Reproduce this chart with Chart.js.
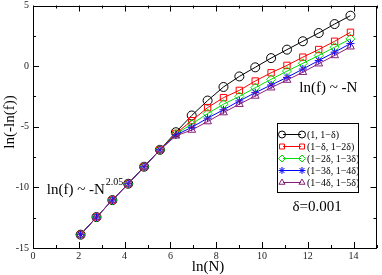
<!DOCTYPE html>
<html>
<head>
<meta charset="utf-8">
<script src="https://cdn.jsdelivr.net/npm/chart.js@4.4.1/dist/chart.umd.min.js"></script>
<style>
  html, body { margin: 0; padding: 0; background: #fff; }
  #wrap { width: 382px; height: 275px; }
</style>
</head>
<body>
<div id="wrap"><canvas id="chart"></canvas></div>
<script>
// ln(N) for N = 2^3 ... 2^20
const lnN = [2.079, 2.773, 3.466, 4.159, 4.852, 5.545, 6.238, 6.931, 7.625,
             8.318, 9.011, 9.704, 10.397, 11.090, 11.784, 12.477, 13.170, 13.863];

const seriesA = [-13.9, -12.45, -11.05, -9.7, -8.3, -6.9, -5.45, -4.07, -2.84,
                 -1.72, -0.85, -0.1, 0.66, 1.36, 2.05, 2.73, 3.47, 4.16];
const seriesB = [-13.9, -12.45, -11.05, -9.7, -8.3, -6.9, -5.55, -4.5, -3.42,
                 -2.6, -2.0, -1.23, -0.55, 0.06, 0.74, 1.37, 2.05, 2.79];
const seriesC = [-13.9, -12.45, -11.05, -9.7, -8.3, -6.9, -5.6, -4.78, -3.91,
                 -3.14, -2.5, -1.78, -1.09, -0.41, 0.23, 0.88, 1.56, 2.25];
const seriesD = [-13.9, -12.45, -11.05, -9.7, -8.3, -6.9, -5.68, -5.05, -4.29,
                 -3.6, -2.87, -2.19, -1.56, -0.93, -0.24, 0.46, 1.15, 1.86];
const seriesE = [-13.9, -12.45, -11.05, -9.7, -8.3, -6.9, -5.75, -5.27, -4.57,
                 -3.83, -3.14, -2.46, -1.78, -1.15, -0.5, 0.2, 0.88, 1.6];

const seriesLabels = ['(1, 1\u2212\u03b4)', '(1\u2212\u03b4, 1\u22122\u03b4)', '(1\u22122\u03b4, 1\u22123\u03b4)',
                      '(1\u22123\u03b4, 1\u22124\u03b4)', '(1\u22124\u03b4, 1\u22125\u03b4)'];

const xTicks = [0, 2, 4, 6, 8, 10, 12, 14];
const yTicks = [-15, -10, -5, 0, 5];

const SERIF = '"Liberation Serif", "DejaVu Serif", serif';

const colors = ['#000000', '#ff0000', '#00e000', '#0000ff', '#8a1f7a'];
const styles = ['circle', 'rect', 'rectRot', 'star', 'triangle'];
const allSeries = [seriesA, seriesB, seriesC, seriesD, seriesE];

const datasets = allSeries.map(function(ys, i) {
    return {
        label: seriesLabels[i],
        data: ys.map(function(y, j) { return { x: lnN[j], y: y }; }),
        borderColor: colors[i],
        borderWidth: 1,
        pointStyle: styles[i],
        pointRadius: styles[i] === 'star' ? 4 : 4.5,
        pointBorderColor: colors[i],
        pointBackgroundColor: 'rgba(0,0,0,0)',
        pointBorderWidth: 1,
        tension: 0,
        order: 4 - i // purple drawn on top
    };
});

// box, inward ticks, titles, annotations, legend
const decorations = {
    id: 'decorations',
    afterDraw: function(chart) {
        const c = chart.ctx;
        const a = chart.chartArea;
        const xs = chart.scales.x;
        const ys = chart.scales.y;
        c.save();
        c.strokeStyle = '#000';
        c.lineWidth = 1;
        c.strokeRect(Math.round(a.left) + 0.5, Math.round(a.top) + 0.5,
                     Math.round(a.right - a.left) - 1, Math.round(a.bottom - a.top) - 1);

        c.beginPath();
        for (let v = 0; v <= 15; v++) {
            const px = Math.round(xs.getPixelForValue(v)) + 0.5;
            const len = v % 2 === 0 ? 6 : 3;
            c.moveTo(px, a.bottom); c.lineTo(px, a.bottom - len);
            c.moveTo(px, a.top); c.lineTo(px, a.top + len);
        }
        for (let v = -15; v <= 5; v += 2.5) {
            const py = Math.round(ys.getPixelForValue(v)) + 0.5;
            const len = v % 5 === 0 ? 6 : 3;
            c.moveTo(a.left, py); c.lineTo(a.left + len, py);
            c.moveTo(a.right, py); c.lineTo(a.right - len, py);
        }
        c.stroke();

        // axis titles
        c.fillStyle = '#000';
        c.font = '15px ' + SERIF;
        c.textAlign = 'center';
        c.textBaseline = 'middle';
        c.fillText('ln(N)', 208, 267);
        c.save();
        c.translate(10, 122);
        c.rotate(-Math.PI / 2);
        c.fillText('ln(-ln(f))', 0, 0);
        c.restore();

        // annotations
        c.textAlign = 'left';
        c.textBaseline = 'alphabetic';
        c.font = '15px ' + SERIF;
        const t1 = 'ln(f) ~ -N';
        const x1 = xs.getPixelForValue(0.6), y1 = ys.getPixelForValue(-10.55);
        c.fillText(t1, x1, y1);
        const w1 = c.measureText(t1).width;
        c.font = '10px ' + SERIF;
        c.fillText('2.05', x1 + w1 + 1, y1 - 9);
        c.font = '15px ' + SERIF;
        c.fillText('ln(f) ~ -N', xs.getPixelForValue(11.63), ys.getPixelForValue(-2.1));
        c.fillText('\u03b4=0.001', xs.getPixelForValue(11.33), ys.getPixelForValue(-11.95));

        // legend
        const lx = 277, ly = 123, lw = 81, lh = 69;
        c.fillStyle = '#fff';
        c.fillRect(lx, ly, lw, lh);
        c.strokeStyle = '#000';
        c.strokeRect(lx + 0.5, ly + 0.5, lw, lh);
        c.font = '10px ' + SERIF;
        c.textBaseline = 'middle';
        datasets.forEach(function(ds, i) {
            const ry = ly + 11 + i * 12;
            c.strokeStyle = ds.borderColor;
            c.lineWidth = 1;
            c.beginPath();
            c.moveTo(lx + 6, ry + 0.5); c.lineTo(lx + 24, ry + 0.5);
            c.stroke();
            const opts = { pointStyle: ds.pointStyle, radius: 3.5, borderWidth: 1, rotation: 0 };
            c.fillStyle = 'rgba(0,0,0,0)';
            c.strokeStyle = ds.borderColor;
            Chart.helpers.drawPoint(c, opts, lx + 5, ry + 0.5);
            Chart.helpers.drawPoint(c, opts, lx + 25, ry + 0.5);
            c.fillStyle = '#000';
            c.fillText(ds.label, lx + 30, ry + 1);
        });
        c.restore();
    }
};

document.addEventListener('DOMContentLoaded', function() {
    const ctx = document.getElementById('chart').getContext('2d');
    new Chart(ctx, {
        type: 'line',
        data: { datasets: datasets },
        options: {
            responsive: true,
            maintainAspectRatio: false,
            animation: false,
            layout: { padding: { top: 5, right: 2, left: 0, bottom: 0 } },
            plugins: {
                legend: { display: false },
                tooltip: { enabled: false }
            },
            scales: {
                x: {
                    type: 'linear',
                    min: 0,
                    max: 15,
                    afterBuildTicks: function(s) { s.ticks = xTicks.map(function(v) { return { value: v }; }); },
                    afterFit: function(s) { s.height = 27; s.paddingLeft = 0; s.paddingRight = 0; },
                    grid: { display: false, drawTicks: false },
                    border: { display: false },
                    ticks: { font: { family: SERIF, size: 10 }, color: '#222', padding: 2, maxRotation: 0 }
                },
                y: {
                    type: 'linear',
                    min: -15,
                    max: 5,
                    afterBuildTicks: function(s) { s.ticks = yTicks.map(function(v) { return { value: v }; }); },
                    afterFit: function(s) { s.width = 33; s.paddingTop = 0; s.paddingBottom = 0; },
                    grid: { display: false, drawTicks: false },
                    border: { display: false },
                    ticks: { font: { family: SERIF, size: 10 }, color: '#222', padding: 4 }
                }
            }
        },
        plugins: [decorations]
    });
});
</script>
</body>
</html>
